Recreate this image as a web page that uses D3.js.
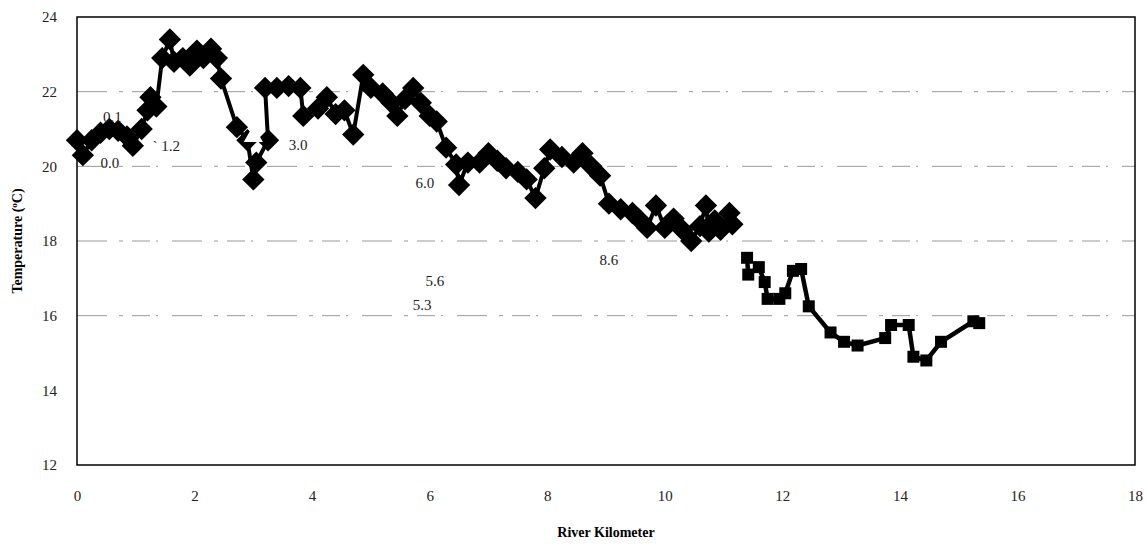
<!DOCTYPE html>
<html>
<head>
<meta charset="utf-8">
<script src="https://cdn.jsdelivr.net/npm/d3@7"></script>
<style>
  body { margin: 0; background: #fff; }
  svg { display: block; }
  .tick text { font-family: "Liberation Serif", "DejaVu Serif", serif; font-size: 15px; fill: #222; }
</style>
</head>
<body>
<svg id="chart" width="1146" height="546"></svg>
<script>
// river km / temperature, upper reach (diamonds)
let upper_km = [0.00, 0.10, 0.25, 0.40, 0.55, 0.70, 0.85, 0.95, 1.10, 1.20, 1.25, 1.35, 1.45, 1.58, 1.65, 1.80, 1.92, 2.04, 2.15, 2.28, 2.38, 2.45, 2.72, 2.90, 3.00, 3.05, 3.25, 3.20, 3.40, 3.60, 3.80, 3.85, 4.10, 4.25, 4.40, 4.55, 4.70, 4.87, 5.00, 5.20, 5.35, 5.45, 5.58, 5.72, 5.85, 6.00, 6.12, 6.28, 6.45, 6.50, 6.65, 6.85, 7.00, 7.15, 7.30, 7.50, 7.65, 7.80, 7.95, 8.05, 8.25, 8.45, 8.60, 8.75, 8.90, 9.05, 9.25, 9.45, 9.55, 9.70, 9.85, 10.00, 10.15, 10.30, 10.45, 10.60, 10.70, 10.75, 10.85, 10.95, 11.10, 11.15];
let upper_temp = [20.7, 20.3, 20.7, 20.9, 21.0, 20.95, 20.8, 20.55, 21.0, 21.5, 21.85, 21.6, 22.9, 23.4, 22.8, 22.9, 22.7, 23.1, 22.9, 23.15, 22.9, 22.35, 21.05, 20.7, 19.65, 20.1, 20.7, 22.1, 22.1, 22.15, 22.1, 21.35, 21.55, 21.85, 21.4, 21.5, 20.85, 22.45, 22.1, 21.95, 21.7, 21.35, 21.8, 22.1, 21.7, 21.35, 21.2, 20.5, 20.05, 19.5, 20.1, 20.1, 20.35, 20.15, 19.95, 19.85, 19.65, 19.15, 19.95, 20.45, 20.25, 20.1, 20.35, 20.0, 19.75, 19.0, 18.85, 18.75, 18.6, 18.35, 18.95, 18.35, 18.6, 18.3, 18.0, 18.4, 18.95, 18.25, 18.55, 18.3, 18.75, 18.45];

// lower reach (squares)
let lower_km = [11.40, 11.42, 11.60, 11.70, 11.75, 11.95, 12.05, 12.18, 12.32, 12.45, 12.82, 13.05, 13.28, 13.75, 13.85, 14.15, 14.23, 14.45, 14.70, 15.25, 15.35];
let lower_temp = [17.55, 17.1, 17.3, 16.9, 16.45, 16.45, 16.6, 17.2, 17.25, 16.25, 15.55, 15.3, 15.2, 15.4, 15.75, 15.75, 14.9, 14.8, 15.3, 15.85, 15.8];

// single open triangle point
let triangle_km = [3.0];
let triangle_temp = [20.8];

// station labels
let label_text = ['0.1', '0.0', '` 1.2', '3.0', '6.0', '5.6', '5.3', '8.6'];
let label_km = [0.60, 0.56, 1.52, 3.76, 5.92, 6.09, 5.87, 9.05];
let label_temp = [21.19, 19.95, 20.42, 20.44, 19.42, 16.8, 16.15, 17.36];

let x_ticks = [0, 2, 4, 6, 8, 10, 12, 14, 16, 18];
let y_ticks = [12, 14, 16, 18, 20, 22, 24];
let grid_values = [16, 18, 20, 22];

let svg = d3.select('#chart');
let margin = {top: 17, right: 11, bottom: 81, left: 77};
let width = 1146 - margin.left - margin.right,
    height = 546 - margin.top - margin.bottom;

let g = svg.append('g').attr('transform', 'translate(' + margin.left + ',' + margin.top + ')');

let x = d3.scaleLinear().domain([0, 18]).range([0, width]);
let y = d3.scaleLinear().domain([12, 24]).range([height, 0]);

// gridlines (broken, like the scanned original)
g.selectAll('.grid').data(grid_values).enter().append('line')
    .attr('x1', 0).attr('x2', width)
    .attr('y1', d => y(d)).attr('y2', d => y(d))
    .attr('stroke', '#999')
    .attr('stroke-width', 1)
    .attr('stroke-dasharray', '30,12,4,9,18,6,2,14');

// axes
g.append('g').attr('transform', 'translate(0,' + height + ')')
    .call(d3.axisBottom(x).tickValues(x_ticks).tickSize(0).tickPadding(25).tickFormat(d3.format('d')))
    .call(a => a.select('.domain').remove());

g.append('g')
    .call(d3.axisLeft(y).tickValues(y_ticks).tickSize(0).tickPadding(20).tickFormat(d3.format('d')))
    .call(a => a.select('.domain').remove());

// frame
g.append('rect').attr('x', 0).attr('y', 0).attr('width', width).attr('height', height)
    .attr('fill', 'none').attr('stroke', '#000').attr('stroke-width', 1.5);

let line = d3.line().x(d => x(d[0])).y(d => y(d[1]));

let upper = upper_km.map((k, i) => [k, upper_temp[i]]);
let lower = lower_km.map((k, i) => [k, lower_temp[i]]);

g.append('path').datum(upper).attr('d', line)
    .attr('fill', 'none').attr('stroke', '#000').attr('stroke-width', 4).attr('stroke-linejoin', 'round');
g.append('path').datum(lower).attr('d', line)
    .attr('fill', 'none').attr('stroke', '#000').attr('stroke-width', 4.5).attr('stroke-linejoin', 'round');

let diamond = d3.symbol().type(d3.symbolSquare).size(250);
g.selectAll('.diamond').data(upper).enter().append('path')
    .attr('d', diamond)
    .attr('transform', d => 'translate(' + x(d[0]) + ',' + y(d[1]) + ') rotate(45)')
    .attr('fill', '#000');

let square = d3.symbol().type(d3.symbolSquare).size(144);
g.selectAll('.square').data(lower).enter().append('path')
    .attr('d', square)
    .attr('transform', d => 'translate(' + x(d[0]) + ',' + y(d[1]) + ')')
    .attr('fill', '#000');

let tri = d3.symbol().type(d3.symbolTriangle).size(160);
g.selectAll('.tri').data(triangle_km.map((k, i) => [k, triangle_temp[i]])).enter().append('path')
    .attr('d', tri)
    .attr('transform', d => 'translate(' + x(d[0]) + ',' + y(d[1]) + ')')
    .attr('fill', '#fff');

// station labels
g.selectAll('.lab').data(label_text).enter().append('text')
    .attr('x', (d, i) => x(label_km[i]))
    .attr('y', (d, i) => y(label_temp[i]))
    .attr('text-anchor', 'middle')
    .style('font-family', '"Liberation Serif", serif')
    .style('font-size', '15px')
    .style('fill', '#222')
    .text(d => d);

// axis titles
svg.append('text')
    .attr('x', margin.left + width / 2).attr('y', 537)
    .attr('text-anchor', 'middle')
    .style('font-family', '"Liberation Serif", serif')
    .style('font-size', '14px').style('font-weight', 'bold')
    .text('River Kilometer');

let yt = svg.append('text')
    .attr('transform', 'translate(22,' + (margin.top + height / 2) + ') rotate(-90)')
    .attr('text-anchor', 'middle')
    .style('font-family', '"Liberation Serif", serif')
    .style('font-size', '14px').style('font-weight', 'bold');
yt.append('tspan').text('Temperature (');
yt.append('tspan').attr('baseline-shift', 'super').style('font-size', '9px').text('o');
yt.append('tspan').text('C)');
</script>
</body>
</html>
